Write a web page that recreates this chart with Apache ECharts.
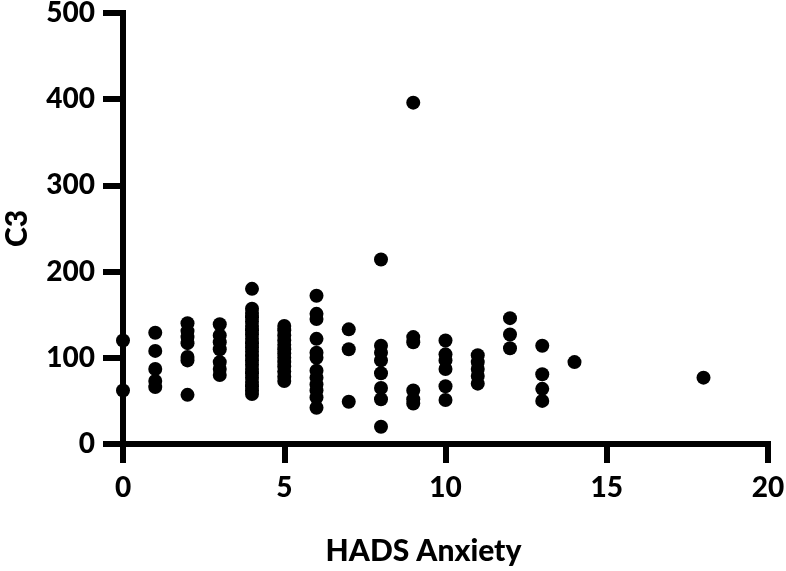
<!DOCTYPE html>
<html>
<head>
<meta charset="utf-8">
<script src="https://cdn.jsdelivr.net/npm/echarts@6/dist/echarts.min.js"></script>
<style>
html,body{margin:0;padding:0;background:#fff;}
#chart{width:786px;height:571px;}
</style>
</head>
<body>
<div id="chart"></div>
<script>
// HADS Anxiety score (x) and C3 value (y), one entry per subject
const hadsAnxiety = [
  0,0,
  1,1,1,1,1,
  2,2,2,2,2,2,2,
  3,3,3,3,3,3,3,
  4,4,4,4,4,4,4,4,4,4,4,4,4,4,4,4,4,4,4,4,4,4,
  5,5,5,5,5,5,5,5,5,5,5,5,5,
  6,6,6,6,6,6,6,6,6,6,6,6,
  7,7,7,
  8,8,8,8,8,8,8,8,
  9,9,9,9,9,9,
  10,10,10,10,10,10,
  11,11,11,11,11,
  12,12,12,
  13,13,13,13,
  14,
  18
];
const c3Values = [
  120,62,
  129,108,87,73,66,
  140,131,124,117,101,97,57,
  139,126,118,110,95,87,80,
  180,157,152,147,142,137,132,127,122,117,112,107,102,97,92,87,82,77,72,67,62,58,
  137,132,126,120,115,110,105,100,95,90,84,78,73,
  172,151,145,122,106,100,85,77,69,62,54,42,
  133,110,49,
  214,114,106,97,82,65,52,20,
  396,124,118,62,52,47,
  120,104,97,87,67,51,
  103,95,87,79,70,
  146,127,111,
  114,81,64,50,
  95,
  77
];
const xTicks = {min: 0, max: 20, interval: 5};
const yTicks = {min: 0, max: 500, interval: 100};
const xTitle = 'HADS Anxiety';
const yTitle = 'C3';

const points = hadsAnxiety.map((x, i) => [x, c3Values[i]]);
const font = 'Lato, "Open Sans", "Liberation Sans", sans-serif';

const chart = echarts.init(document.getElementById('chart'), null, {renderer: 'canvas'});
chart.setOption({
  animation: false,
  backgroundColor: '#ffffff',
  grid: {left: 123, right: 18, top: 13, bottom: 127, containLabel: false, outerBoundsMode: 'none'},
  xAxis: {
    type: 'value',
    min: xTicks.min, max: xTicks.max, interval: xTicks.interval,
    name: xTitle,
    nameLocation: 'middle',
    nameGap: 92,
    nameTextStyle: {color: '#000', fontFamily: font, fontWeight: 900, fontSize: 30, padding: [0, 44, 0, 0]},
    axisLine: {show: true, lineStyle: {color: '#000', width: 6, cap: 'square'}},
    axisTick: {show: true, inside: false, length: 19, lineStyle: {color: '#000', width: 6}},
    axisLabel: {color: '#000', fontFamily: font, fontWeight: 900, fontSize: 28, margin: 30},
    splitLine: {show: false}
  },
  yAxis: {
    type: 'value',
    min: yTicks.min, max: yTicks.max, interval: yTicks.interval,
    name: yTitle,
    nameLocation: 'middle',
    nameGap: 91,
    nameRotate: 90,
    nameTextStyle: {color: '#000', fontFamily: font, fontWeight: 900, fontSize: 30},
    axisLine: {show: true, lineStyle: {color: '#000', width: 6, cap: 'square'}},
    axisTick: {show: true, inside: false, length: 20, lineStyle: {color: '#000', width: 6}},
    axisLabel: {color: '#000', fontFamily: font, fontWeight: 900, fontSize: 28, margin: 28},
    splitLine: {show: false}
  },
  series: [{
    type: 'scatter',
    data: points,
    symbol: 'circle',
    symbolSize: 14,
    itemStyle: {color: '#000', opacity: 1}
  }]
});
</script>
</body>
</html>
